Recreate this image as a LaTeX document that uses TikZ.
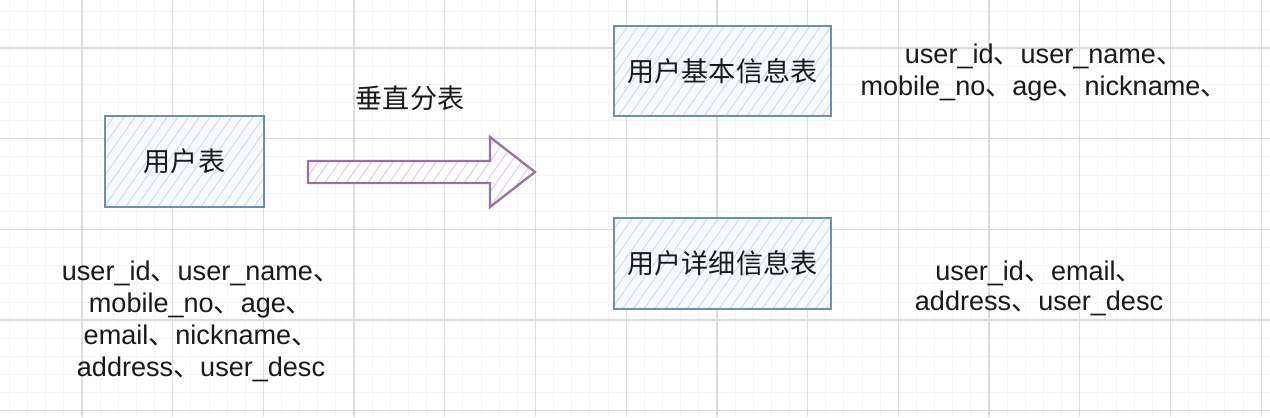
\documentclass[tikz,border=0pt]{standalone}
\usepackage{fontspec}
\setmainfont{Liberation Sans}
\newfontfamily\cjk{Noto Sans CJK SC}
\usetikzlibrary{patterns.meta}
\definecolor{gridmajor}{HTML}{DDDDDD}
\definecolor{gridminor}{HTML}{F5F5F5}
\definecolor{tabledraw}{HTML}{6C8EBF}
\definecolor{tablehatch}{HTML}{CCD8E8}
\definecolor{tablefill}{HTML}{F6F9FD}
\definecolor{arrowdraw}{HTML}{9673A6}
\definecolor{arrowhatch}{HTML}{DCC6E2}
\definecolor{textcol}{HTML}{1A1A1A}
\newcommand{\dunhao}{{\cjk 、}}

\begin{document}
\begin{tikzpicture}[x=0.02cm,y=-0.02cm,
table node/.style={draw=tabledraw,line width=1.3pt,preaction={fill=tablefill},
preaction={pattern={Lines[angle=55,distance=5pt,line width=0.5pt]},pattern color=tablehatch},
font=\cjk\fontsize{15.4}{18}\selectfont,text=textcol,inner sep=0pt},
cjk label/.style={font=\cjk\fontsize{15.4}{18}\selectfont,text=textcol},
field list/.style={align=center,font=\fontsize{15.4}{18.2}\selectfont,text=textcol}]
\useasboundingbox[fill=white] (0,0) rectangle (1270,417);
% grid
\foreach \k in {0,...,70}
\draw[gridminor,line width=0.5pt] ({9.4+\k*18.14},0) -- ({9.4+\k*18.14},417);
\foreach \k in {0,...,22}
\draw[gridminor,line width=0.5pt] (0,{11.7+\k*18.14}) -- (1270,{11.7+\k*18.14});
\foreach \k in {0,...,13}
\draw[gridmajor,line width=0.7pt] ({82+\k*90.7},0) -- ({82+\k*90.7},417);
\foreach \k in {0,...,4}
\draw[gridmajor,line width=0.7pt] (0,{48+\k*90.7}) -- (1270,{48+\k*90.7});

\node[table node,minimum width=3.18cm,minimum height=1.82cm] (user) at (184.5,161.5) {用户表};
\node[table node,minimum width=4.34cm,minimum height=1.8cm] (base) at (722.5,71) {用户基本信息表};
\node[table node,minimum width=4.34cm,minimum height=1.82cm] (detail) at (722.5,263.5) {用户详细信息表};

\node[cjk label] (split) at (410,98) {垂直分表};
\draw[arrowdraw,line width=1.3pt,preaction={fill=white},
preaction={pattern={Lines[angle=55,distance=5pt,line width=0.5pt]},pattern color=arrowhatch}]
(308,161) -- (490,161) -- (490,137) -- (535,172) -- (490,207) -- (490,183) -- (308,183) -- cycle;

\node[field list] (userfields) at (201,321) {user\_id\dunhao user\_name\dunhao\\mobile\_no\dunhao age\dunhao\\email\dunhao nickname\dunhao\\address\dunhao user\_desc};
\node[field list] (basefields) at (1044,72.5) {user\_id\dunhao user\_name\dunhao\\mobile\_no\dunhao age\dunhao nickname\dunhao};
\node[field list,font=\fontsize{15.4}{17.1}\selectfont] (detailfields) at (1039,288) {user\_id\dunhao email\dunhao\\address\dunhao user\_desc};
\end{tikzpicture}
\end{document}
